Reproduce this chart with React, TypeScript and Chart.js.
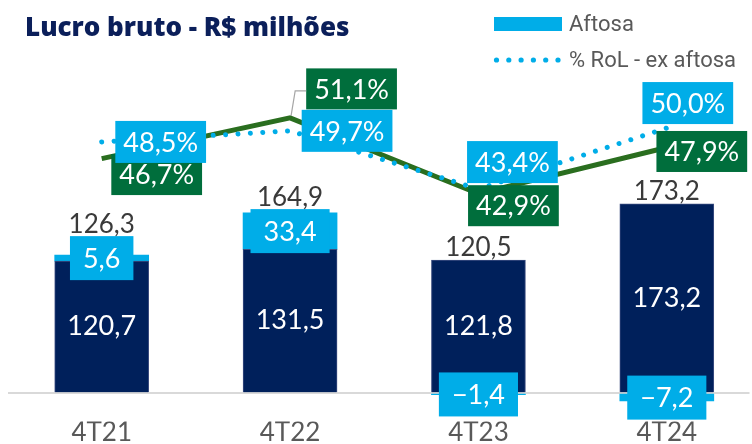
import React, { useEffect, useRef } from 'react';
import { Chart, registerables } from 'chart.js';
Chart.register(...registerables);

const W = 752;
const H = 444;

const categories = ['4T21', '4T22', '4T23', '4T24'];
const lucroExAftosa = [120.7, 131.5, 121.8, 173.2];
const aftosa = [5.6, 33.4, -1.4, -7.2];
const lucroTotal = [126.3, 164.9, 120.5, 173.2];
const margemRol = [46.7, 51.1, 42.9, 47.9];
const margemExAftosa = [48.5, 49.7, 43.4, 50.0];

// label layout (offsets of label boxes from their points)
const greenOffsets = [[55, 16], [61.5, -29], [35, 12], [35, 4]];
const blueOffsets = [[59, 0], [57, 0], [34, -27], [21, -25]];
const greenLeader = [false, true, false, false];

// axis geometry: where value 0 of the bars sits and the vertical scales
const BAR_ZERO_PX = 393;
const BAR_PX_PER_UNIT = 1.1;
const PCT_REF_VALUE = 46.7;
const PCT_REF_PX = 157;
const PCT_PX_PER_UNIT = 9.3;

const NAVY = '#00205b';
const LIGHT = '#00ade8';
const GREEN_BOX = '#006e3c';
const GREEN_LINE = '#2a6e1f';
const NUM_FONT = 'Lato';

const fmt = (v: number) => v.toFixed(1).replace('.', ',').replace('-', '\u2212');

function box(ctx: CanvasRenderingContext2D, cx: number, cy: number, text: string, bg: string, padX: number, h: number, size: number) {
  ctx.font = `${size}px ${NUM_FONT}`;
  const tw = ctx.measureText(text).width;
  const w = tw + padX * 2;
  ctx.fillStyle = bg;
  ctx.fillRect(cx - w / 2, cy - h / 2, w, h);
  ctx.fillStyle = '#ffffff';
  ctx.textAlign = 'center';
  ctx.textBaseline = 'middle';
  ctx.fillText(text, cx, cy + 1);
  return { left: cx - w / 2, w };
}

const labelsPlugin = {
  id: 'customLabels',
  afterDraw(chart: any) {
    const ctx: CanvasRenderingContext2D = chart.ctx;
    ctx.save();
    const navyMeta = chart.getDatasetMeta(0);
    const aftMeta = chart.getDatasetMeta(1);
    const greenMeta = chart.getDatasetMeta(2);
    const blueMeta = chart.getDatasetMeta(3);

    categories.forEach((_, i) => {
      const nb = navyMeta.data[i];
      const ab = aftMeta.data[i];
      ctx.font = `27px ${NUM_FONT}`;
      ctx.fillStyle = '#ffffff';
      ctx.textAlign = 'center';
      ctx.textBaseline = 'middle';
      ctx.fillText(fmt(lucroExAftosa[i]), nb.x, (nb.y + nb.base) / 2);

      const acy = (ab.y + ab.base) / 2;
      const boxH = 44;
      const topOfBox = aftosa[i] > 0 ? acy - boxH / 2 : nb.y;
      const topRef = Math.min(topOfBox, nb.y, ab.y);
      ctx.font = `26px ${NUM_FONT}`;
      ctx.fillStyle = '#3a3a3a';
      ctx.textAlign = 'center';
      ctx.textBaseline = 'middle';
      ctx.fillText(fmt(lucroTotal[i]), nb.x, topRef - 12);

      box(ctx, ab.x, acy, fmt(aftosa[i]), LIGHT, 13, boxH, 27);
    });

    categories.forEach((_, i) => {
      const p = greenMeta.data[i];
      const cx = p.x + greenOffsets[i][0];
      const cy = p.y + greenOffsets[i][1];
      const b = box(ctx, cx, cy, fmt(margemRol[i]) + '%', GREEN_BOX, 8, 41, 27);
      if (greenLeader[i]) {
        ctx.strokeStyle = '#a6a6a6';
        ctx.lineWidth = 1.2;
        ctx.beginPath();
        ctx.moveTo(p.x + 1, p.y - 2);
        ctx.lineTo(b.left - 11, cy + 2);
        ctx.lineTo(b.left, cy + 2);
        ctx.stroke();
      }
    });
    categories.forEach((_, i) => {
      const p = blueMeta.data[i];
      box(ctx, p.x + blueOffsets[i][0], p.y + blueOffsets[i][1], fmt(margemExAftosa[i]) + '%', LIGHT, 8, 42, 27);
    });

    ctx.font = `800 26px "Open Sans"`;
    ctx.fillStyle = '#0b1f5a';
    ctx.textAlign = 'left';
    ctx.textBaseline = 'alphabetic';
    ctx.fillText('Lucro bruto - R$ milhões', 25, 36);

    ctx.fillStyle = LIGHT;
    ctx.fillRect(494, 17, 68, 14);
    ctx.font = '22px Roboto';
    ctx.fillStyle = '#595959';
    ctx.textBaseline = 'middle';
    ctx.fillText('Aftosa', 569, 25);
    ctx.fillStyle = LIGHT;
    for (let k = 0; k < 6; k++) {
      ctx.beginPath();
      ctx.arc(496.5 + k * 12.3, 60, 2.6, 0, Math.PI * 2);
      ctx.fill();
    }
    ctx.fillStyle = '#595959';
    ctx.fillText('% RoL - ex aftosa', 569, 61);
    ctx.restore();
  },
};

export default function App() {
  const ref = useRef<HTMLCanvasElement>(null);
  useEffect(() => {
    const canvas = ref.current!;
    const toXY = (arr: number[]) => arr.map((v, i) => ({ x: i, y: v }));
    const chart = new Chart(canvas, {
      type: 'bar',
      data: {
        datasets: [
          {
            type: 'bar',
            label: 'Lucro bruto ex aftosa',
            data: toXY(lucroExAftosa),
            backgroundColor: NAVY,
            borderColor: '#3b4d80',
            borderWidth: 1,
            barThickness: 94,
            stack: 's',
            yAxisID: 'y',
            order: 2,
          },
          {
            type: 'bar',
            label: 'Aftosa',
            data: toXY(aftosa),
            backgroundColor: LIGHT,
            borderWidth: 0,
            barThickness: 94,
            stack: 's',
            yAxisID: 'y',
            order: 2,
          },
          {
            type: 'line',
            label: '% RoL',
            data: toXY(margemRol),
            borderColor: GREEN_LINE,
            borderWidth: 5,
            pointRadius: 0,
            tension: 0,
            yAxisID: 'y2',
            order: 1,
          },
          {
            type: 'line',
            label: '% RoL - ex aftosa',
            data: toXY(margemExAftosa),
            borderColor: LIGHT,
            borderWidth: 5,
            borderDash: [0.01, 12.4],
            borderCapStyle: 'round',
            pointRadius: 0,
            tension: 0,
            yAxisID: 'y2',
            order: 0,
          },
        ] as any,
      },
      options: {
        responsive: false,
        animation: false,
        layout: { padding: { left: 7.5, right: 0, top: 0, bottom: 0 } },
        plugins: { legend: { display: false }, title: { display: false }, tooltip: { enabled: false } },
        scales: {
          x: {
            type: 'linear',
            offset: false,
            min: -0.5,
            max: 3.439,
            stacked: true,
            grid: { display: false, drawTicks: false },
            border: { display: false },
            ticks: {
              stepSize: 1,
              includeBounds: false,
              autoSkip: false,
              maxRotation: 0,
              padding: 8,
              color: '#595959',
              font: { family: NUM_FONT, size: 26, lineHeight: 0.25 },
              callback: (v: any) => (Number.isInteger(v) && categories[v] ? categories[v] : ''),
            },
          },
          y: {
            stacked: true,
            min: -20,
            max: 350,
            ticks: { display: false, stepSize: 10 },
            border: { display: false },
            grid: {
              drawTicks: false,
              lineWidth: 2,
              color: (c: any) => (c.tick && c.tick.value === 0 ? '#d9d9d9' : 'rgba(0,0,0,0)'),
            },
          },
          y2: { position: 'right', display: false, min: 20, max: 60 },
        },
      } as any,
      plugins: [labelsPlugin],
    });
    // fit the value ranges to the plotting area
    const ca = chart.chartArea;
    const o: any = chart.options.scales;
    o.y.min = -(ca.bottom - BAR_ZERO_PX) / BAR_PX_PER_UNIT;
    o.y.max = (BAR_ZERO_PX - ca.top) / BAR_PX_PER_UNIT;
    o.y2.min = PCT_REF_VALUE - (ca.bottom - PCT_REF_PX) / PCT_PX_PER_UNIT;
    o.y2.max = PCT_REF_VALUE + (PCT_REF_PX - ca.top) / PCT_PX_PER_UNIT;
    chart.update();
    return () => chart.destroy();
  }, []);
  return (
    <div style={{ position: 'fixed', left: 0, top: 0, width: W, height: H, background: '#fff' }}>
      <canvas ref={ref} width={W} height={H} style={{ display: 'block' }} />
    </div>
  );
}
